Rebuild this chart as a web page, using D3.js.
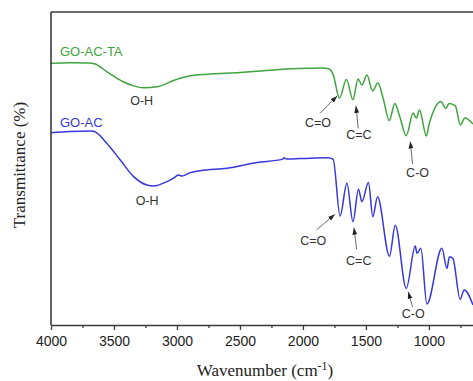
<!DOCTYPE html>
<html>
<head>
<meta charset="utf-8">
<script src="https://cdn.jsdelivr.net/npm/d3@7"></script>
<style>
    body { margin: 0; background: #fff; }
</style>
</head>
<body>
<div id="chart"></div>
<script>
// wavenumbers (cm-1) and transmittance
const WN_TA = [4000, 3850, 3700, 3650, 3556, 3426, 3344, 3265, 3159, 3027, 2960, 2894, 2762, 2498, 2233, 1968,
    1850, 1790, 1760, 1710, 1655, 1603, 1563, 1532, 1492, 1447, 1405, 1360, 1315, 1270, 1235, 1180, 1125,
    1100, 1075, 1020, 1000, 960, 905, 865, 840, 790, 750, 715, 650];
const T_TA = [83.6, 83.8, 83.7, 83.4, 80.9, 77.7, 76.4, 75.8, 76.1, 78.1, 79.0, 79.6, 80.1, 80.7, 81.5, 82.0,
    82.1, 81.8, 80.0, 72.5, 78.4, 72.0, 78.6, 76.7, 79.9, 74.8, 77.3, 71.9, 65.3, 70.8, 67.1, 60.5, 67.7,
    66.1, 68.7, 60.4, 63.9, 68.7, 71.4, 69.2, 70.8, 70.0, 63.9, 66.1, 64.2];

const WN_AC = [4000, 3850, 3700, 3662, 3556, 3450, 3344, 3238, 3186, 3080, 3027, 2990, 2960, 2900, 2815, 2603,
    2365, 2160, 2150, 2130, 1942, 1800, 1760, 1705, 1651, 1603, 1559, 1532, 1480, 1445, 1408, 1313, 1267,
    1180, 1108, 1095, 1064, 1016, 897, 857, 837, 810, 752, 720, 650];
const T_AC = [61.4, 61.8, 62.0, 61.9, 58.0, 52.7, 47.4, 44.7, 44.4, 45.8, 46.9, 47.9, 47.6, 48.6, 49.3, 50.1,
    51.9, 53.0, 53.4, 53.0, 53.3, 53.4, 52.9, 34.8, 45.3, 33.0, 43.4, 39.4, 45.5, 34.6, 41.0, 22.0, 31.9,
    11.7, 25.2, 22.9, 24.5, 6.7, 24.5, 18.1, 21.8, 21.3, 8.2, 11.2, 6.4];

const MAJOR_TICKS = [4000, 3500, 3000, 2500, 2000, 1500, 1000];
const MINOR_TICKS = [3750, 3250, 2750, 2250, 1750, 1250, 750];

const SERIES = [
    { name: "GO-AC-TA", wn: WN_TA, t: T_TA, color: "#3fa33f", labelAt: [3929, 86.0] },
    { name: "GO-AC", wn: WN_AC, t: T_AC, color: "#3737dc", labelAt: [3929, 63.4] }
];

// band labels: text position and arrow (tail -> tip), all in data units
const BANDS = [
    { text: "O-H", at: [3280, 70.3] },
    { text: "C=O", at: [1881, 63.4], from: [1865, 67.6], to: [1728, 73.2] },
    { text: "C=C", at: [1556, 59.4], from: [1561, 62.8], to: [1579, 70.0] },
    { text: "C-O", at: [1090, 47.4], from: [1130, 51.4], to: [1148, 58.6] },
    { text: "O-H", at: [3237, 38.3] },
    { text: "C=O", at: [1918, 25.6], from: [1891, 30.4], to: [1746, 35.4] },
    { text: "C=C", at: [1557, 19.2], from: [1574, 24.2], to: [1595, 31.1] },
    { text: "C-O", at: [1125, 2.1], from: [1130, 5.8], to: [1164, 10.6] }
];

const W = 473, H = 381;
const plotLeft = 51, plotRight = 473, plotTop = 12, plotBottom = 325;
const sans = "'Liberation Sans', Arial, sans-serif";
const serif = "'Liberation Serif', 'Times New Roman', serif";
const axisColor = "#3a3a3a";

const svg = d3.select("#chart").append("svg")
    .attr("width", W)
    .attr("height", H);

svg.append("defs").append("marker")
    .attr("id", "arrow")
    .attr("viewBox", "0 0 10 10")
    .attr("refX", 10)
    .attr("refY", 5)
    .attr("markerUnits", "userSpaceOnUse")
    .attr("markerWidth", 7)
    .attr("markerHeight", 7)
    .attr("orient", "auto")
    .append("path")
    .attr("d", "M0,1.5 L10,5 L0,8.5 Z")
    .attr("fill", "#222");

const x = d3.scaleLinear().domain([4000, 650]).range([plotLeft, plotRight]);
const y = d3.scaleLinear().domain([0, 100]).range([plotBottom, plotBottom - 313]);

const line = d3.line()
    .x(d => x(d[0]))
    .y(d => y(d[1]))
    .curve(d3.curveMonotoneX);

SERIES.forEach(s => {
    const pts = s.wn.map((w, i) => [w, s.t[i]]);
    svg.append("path")
        .datum(pts)
        .attr("fill", "none")
        .attr("stroke", s.color)
        .attr("stroke-width", 1.5)
        .attr("stroke-linejoin", "round")
        .attr("d", line);

    svg.append("text")
        .attr("x", x(s.labelAt[0]))
        .attr("y", y(s.labelAt[1]))
        .attr("fill", s.color)
        .style("font-family", sans)
        .style("font-size", "13px")
        .text(s.name);
});

// band annotations
BANDS.forEach(b => {
    if (b.from) {
        svg.append("line")
            .attr("x1", x(b.from[0]))
            .attr("y1", y(b.from[1]))
            .attr("x2", x(b.to[0]))
            .attr("y2", y(b.to[1]))
            .attr("stroke", "#444")
            .attr("stroke-width", 0.8)
            .attr("marker-end", "url(#arrow)");
    }
    svg.append("text")
        .attr("x", x(b.at[0]))
        .attr("y", y(b.at[1]))
        .attr("text-anchor", "middle")
        .attr("fill", "#333")
        .style("font-family", sans)
        .style("font-size", "12.5px")
        .text(b.text);
});

// frame: bottom axis with ticks, plain left and top lines
const xAxis = svg.append("g")
    .attr("transform", `translate(0,${plotBottom})`)
    .call(d3.axisBottom(x).tickValues(MAJOR_TICKS).tickFormat(d3.format("d"))
        .tickSize(5).tickSizeOuter(0).tickPadding(6));
xAxis.select(".domain").attr("stroke", axisColor).attr("stroke-width", 1.6);
xAxis.selectAll(".tick line").attr("stroke", axisColor).attr("stroke-width", 1.3);
xAxis.selectAll(".tick text")
    .attr("fill", "#222")
    .style("font-family", sans)
    .style("font-size", "14px");

const minor = svg.append("g")
    .attr("transform", `translate(0,${plotBottom})`)
    .call(d3.axisBottom(x).tickValues(MINOR_TICKS).tickSize(3).tickFormat(""));
minor.select(".domain").remove();
minor.selectAll(".tick line").attr("stroke", axisColor).attr("stroke-width", 1.3);

svg.append("line")
    .attr("x1", plotLeft).attr("x2", plotLeft)
    .attr("y1", plotTop).attr("y2", plotBottom)
    .attr("stroke", axisColor)
    .attr("stroke-width", 1.6);

svg.append("line")
    .attr("x1", plotLeft).attr("x2", plotRight)
    .attr("y1", plotTop).attr("y2", plotTop)
    .attr("stroke", axisColor)
    .attr("stroke-width", 1.6);

// axis titles
const xTitle = svg.append("text")
    .attr("x", 265)
    .attr("y", 376)
    .attr("text-anchor", "middle")
    .attr("fill", "#222")
    .style("font-family", serif)
    .style("font-size", "17px");
xTitle.append("tspan").text("Wavenumber (cm");
xTitle.append("tspan").attr("dy", -6).style("font-size", "12px").text("-1");
xTitle.append("tspan").attr("dy", 6).text(")");

svg.append("text")
    .attr("transform", "rotate(-90)")
    .attr("x", -165)
    .attr("y", 25)
    .attr("text-anchor", "middle")
    .attr("fill", "#222")
    .style("font-family", serif)
    .style("font-size", "17px")
    .text("Transmittance (%)");
</script>
</body>
</html>
